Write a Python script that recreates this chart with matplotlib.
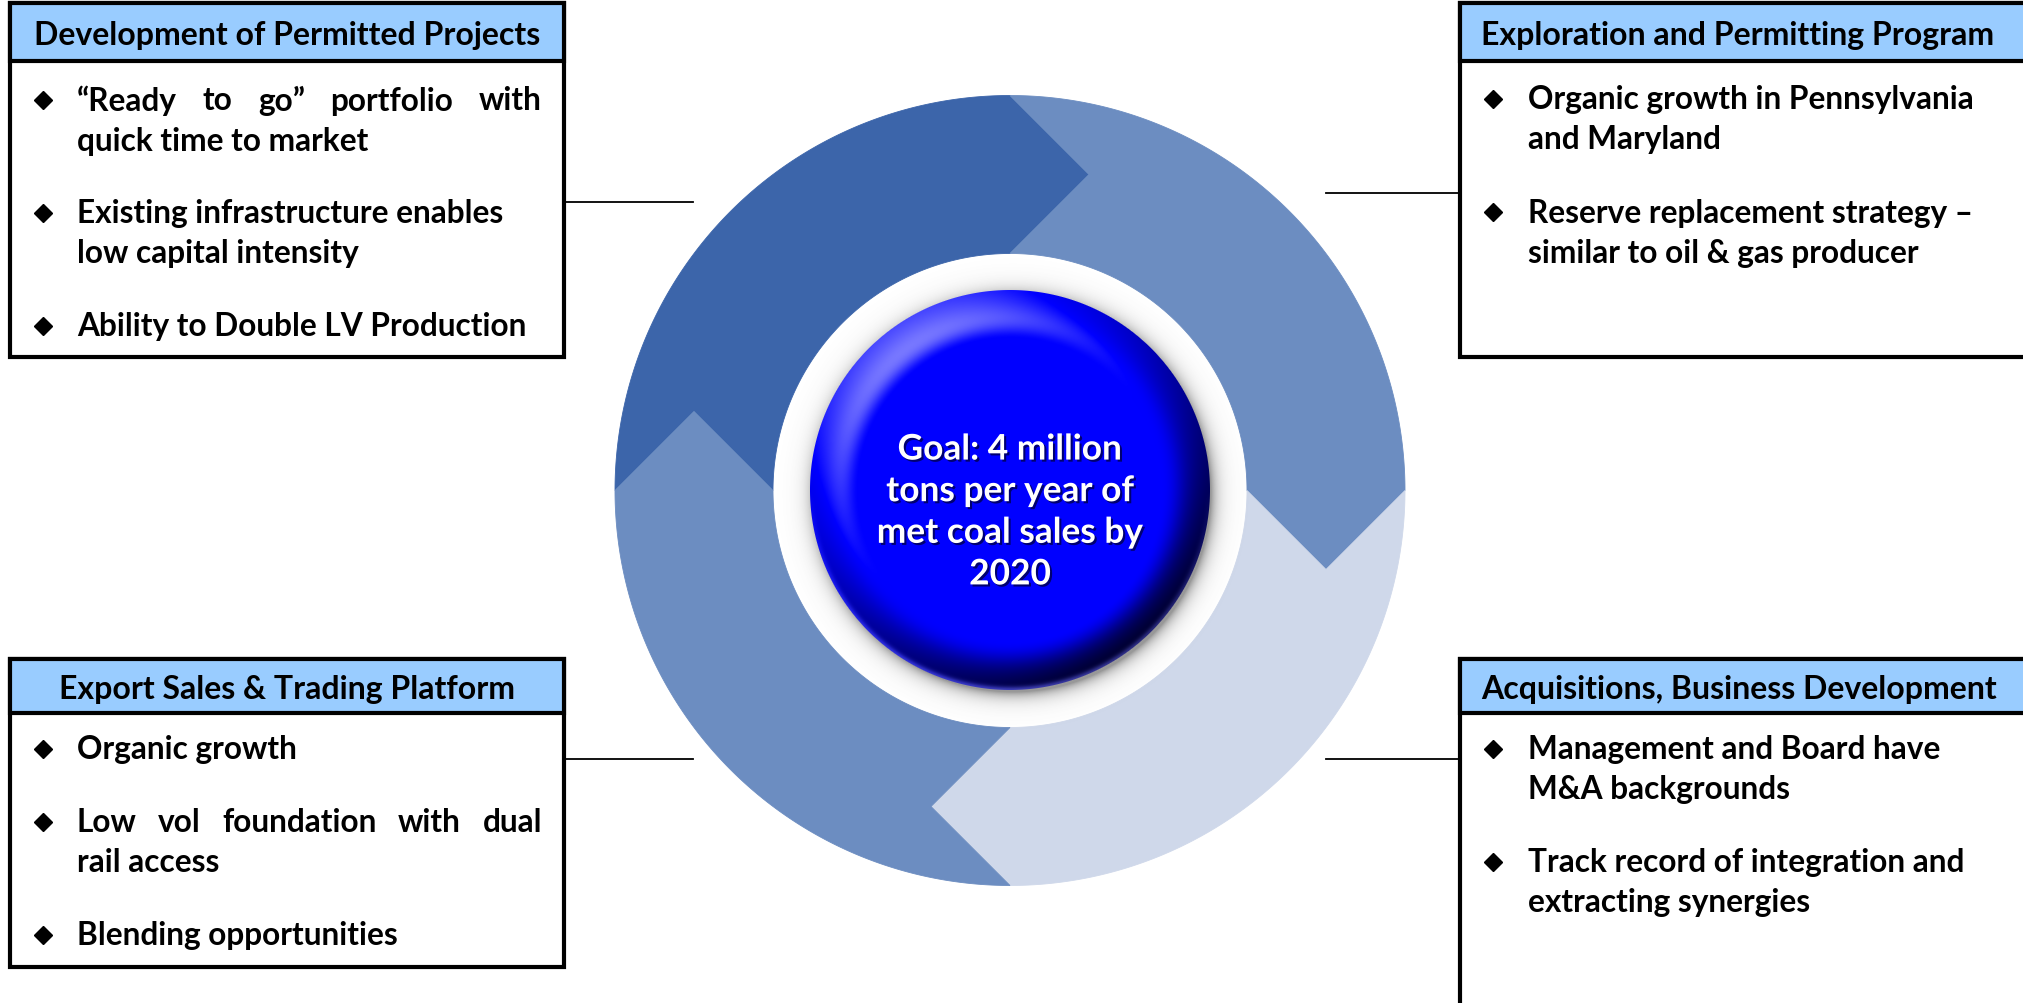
import numpy as np
import matplotlib
matplotlib.use("Agg")
import matplotlib.pyplot as plt
from matplotlib.patches import Polygon, Rectangle
import matplotlib.patheffects as pe

W, H = 2024, 1004
FONT = ["Lato", "DejaVu Sans"]

# --- content -------------------------------------------------------------
titles = [
    "Development of Permitted Projects",
    "Exploration and Permitting Program",
    "Export Sales & Trading Platform",
    "Acquisitions, Business Development",
]
bullets_dev = [
    ["\u201cReady to go\u201d portfolio with", "quick time to market"],
    ["Existing infrastructure enables", "low capital intensity"],
    ["Ability to Double LV Production"],
]
bullets_expl = [
    ["Organic growth in Pennsylvania", "and Maryland"],
    ["Reserve replacement strategy \u2013", "similar to oil & gas producer"],
]
bullets_export = [
    ["Organic growth"],
    ["Low vol foundation with dual", "rail access"],
    ["Blending opportunities"],
]
bullets_acq = [
    ["Management and Board have", "M&A backgrounds"],
    ["Track record of integration and", "extracting synergies"],
]
justified_lines = {"\u201cReady to go\u201d portfolio with", "Low vol foundation with dual"}
goal_lines = ["Goal: 4 million", "tons per year of", "met coal sales by", "2020"]

# ring arrows, clockwise: (tail angle, head angle) in degrees, colour
segment_angles = [(180, 90), (90, 0), (0, -90), (-90, -180)]
segment_colors = ["#3c65aa", "#6c8dc1", "#cfd8ea", "#6c8dc1"]

# --- figure in pixel coordinates -----------------------------------------
fig = plt.figure(figsize=(W / 100, H / 100), dpi=100)
ax = fig.add_axes([0, 0, 1, 1])
ax.set_xlim(0, W)
ax.set_ylim(H, 0)
ax.axis("off")
renderer = fig.canvas.get_renderer()


def text_width(s, size):
    t = ax.text(0, 0, s, fontsize=size, family=FONT, weight="bold")
    w = t.get_window_extent(renderer).width
    t.remove()
    return w


def fit_size(s, target):
    return 20 * target / text_width(s, 20)


body_size = fit_size("Ability to Double LV Production", 450)
head_size = fit_size("Development of Permitted Projects", 506)
goal_size = fit_size("met coal sales by", 266)

# --- ring ----------------------------------------------------------------
cx, cy = 1010, 491.5
r_out, r_in = 395, 237
r_mid = (r_out + r_in) / 2
half_w = (r_out - r_in) / 2


def pt(r, deg):
    a = np.radians(deg)
    return np.array([cx + r * np.cos(a), cy - r * np.sin(a)])


def tip(deg):
    a = np.radians(deg)
    tangent = np.array([np.sin(a), np.cos(a)])  # clockwise direction on screen
    return pt(r_mid, deg) + half_w * tangent


for (a0, a1), col in zip(segment_angles, segment_colors):
    arc = np.linspace(a0, a1, 200)
    outer = [pt(r_out, a) for a in arc]
    inner = [pt(r_in, a) for a in arc[::-1]]
    verts = outer + [tip(a1)] + inner + [tip(a0)]
    ax.add_patch(Polygon(verts, closed=True, facecolor=col, edgecolor=col,
                         lw=0.6, zorder=1))

# --- central button --------------------------------------------------------
R = 200
half = 260
n = 2 * half
xs = cx - half + np.arange(n) + 0.5
ys = cy - half + np.arange(n) + 0.5
X, Y = np.meshgrid(xs, ys)
dx, dy = X - cx, Y - cy
d = np.hypot(dx, dy)
r = d / R
ux, uy = dx / np.maximum(d, 1e-6), dy / np.maximum(d, 1e-6)

t = np.clip((r - 0.76) / 0.24, 0, 1)
s = 3.2 * t ** 1.6
L = np.array([-0.6, -0.8, 1.0])
L = L / np.linalg.norm(L)
nz = 1 / np.sqrt(1 + s ** 2)
dot = (ux * s * L[0] + uy * s * L[1] + L[2]) * nz
delta = dot - L[2]

rgb = np.zeros((n, n, 3))
light = np.clip(delta, 0, None) * 1.6
dark = np.clip(-delta, 0, None) * 0.72
rgb[..., 0] = light
rgb[..., 1] = light
rgb[..., 2] = np.clip(1 - dark, 0.16, 1)
# thin reflected rim on the lower edge
rim = np.exp(-((1 - r) / 0.018) ** 2) * np.clip(uy, 0, 1) * 0.45
rgb[..., 0] += rim * 0.5
rgb[..., 1] += rim * 0.5
rgb[..., 2] = np.clip(rgb[..., 2] + rim, 0, 1)
rgb = np.clip(rgb, 0, 1)

a_in = np.clip(R - d + 0.5, 0, 1)
ds = np.hypot(dx - 3, dy - 4)
a_sh = 0.6 * np.exp(-np.clip(ds - R + 2, 0, None) / 7.5) * (ds > R - 6)
shadow = np.full((n, n, 3), 0.33)
alpha = a_in + a_sh * (1 - a_in)
col = (rgb * a_in[..., None] + shadow * (a_sh * (1 - a_in))[..., None]) / np.maximum(alpha, 1e-6)[..., None]
img = np.dstack([col, alpha])
ax.imshow(img, extent=(cx - half, cx + half, cy + half, cy - half),
          interpolation="bilinear", zorder=2)

ax.text(cx, 513, "\n".join(goal_lines), ha="center", va="center",
        fontsize=goal_size, family=FONT, weight="bold", color="white",
        linespacing=1.37, zorder=3,
        path_effects=[pe.withSimplePatchShadow(offset=(1.5, -1.5),
                                               shadow_rgbFace="#000033", alpha=0.7)])

# --- text boxes ------------------------------------------------------------
boxes = [
    # x0, x1, y0, y1, header bottom, title x, title align, bullet x, text x, first line y
    (10, 564, 4, 358, 62, 287, "center", 43, 77, 101, titles[0], bullets_dev),
    (1460, 2040, 4, 358, 62, 1481, "left", 1493, 1528, 100, titles[1], bullets_expl),
    (10, 564, 660, 968, 714, 287, "center", 43, 77, 750, titles[2], bullets_export),
    (1460, 2040, 660, 1020, 714, 1481, "left", 1493, 1528, 750, titles[3], bullets_acq),
]
line_step, bullet_gap = 40, 33

for x0, x1, y0, y1, yh, tx, tha, bx, txx, yfirst, title, bullets in boxes:
    ax.add_patch(Rectangle((x0, y0), x1 - x0, y1 - y0, facecolor="white",
                           edgecolor="black", lw=3.0, zorder=4))
    ax.add_patch(Rectangle((x0, y0), x1 - x0, yh - y0, facecolor="#99ccff",
                           edgecolor="black", lw=3.0, zorder=5))
    ax.text(tx, (y0 + yh) / 2 + 3, title, ha=tha, va="center", fontsize=head_size,
            family=FONT, weight="bold", color="black", zorder=6)
    y = yfirst
    for para in bullets:
        ax.plot([bx], [y], marker="D", ms=9, color="black", zorder=6)
        for line in para:
            if line in justified_lines:
                words = line.split()
                objs = [ax.text(0, y, w_, ha="left", va="center", fontsize=body_size,
                                family=FONT, weight="bold", zorder=6) for w_ in words]
                widths = [o.get_window_extent(renderer).width for o in objs]
                gap = (542 - txx - sum(widths)) / (len(words) - 1)
                xx = txx
                for o, w_ in zip(objs, widths):
                    o.set_x(xx)
                    xx += w_ + gap
            else:
                ax.text(txx, y, line, ha="left", va="center", fontsize=body_size,
                        family=FONT, weight="bold", zorder=6)
            y += line_step
        y += bullet_gap

# connectors between boxes and ring
for (xa, xb, yc) in [(564, 693, 203), (1326, 1460, 194), (564, 693, 760), (1326, 1460, 760)]:
    ax.plot([xa, xb], [yc, yc], color="black", lw=1.3, zorder=3)

fig.savefig("out.png", dpi=100)
